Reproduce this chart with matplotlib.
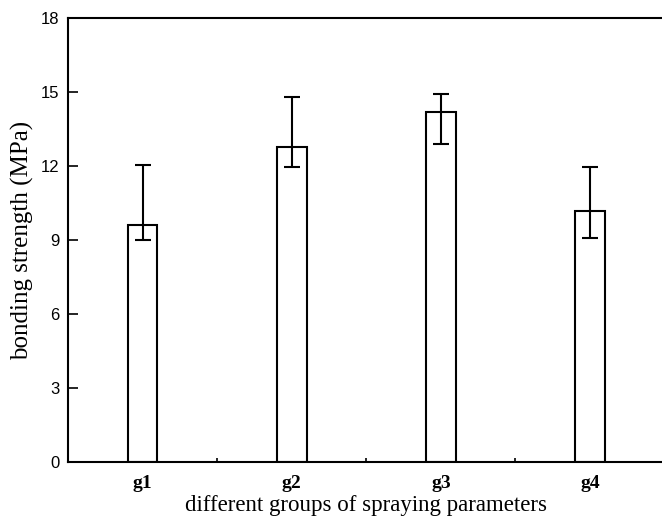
import matplotlib.pyplot as plt
import numpy as np
from matplotlib.ticker import FixedLocator

groups = ['g1', 'g2', 'g3', 'g4']
strength = [9.62, 12.79, 14.21, 10.20]
err_low = [0.62, 0.81, 1.32, 1.12]
err_high = [2.43, 2.03, 0.71, 1.78]
yticks = [0, 3, 6, 9, 12, 15, 18]

fig = plt.figure(figsize=(6.62, 5.24), dpi=100)
ax = fig.add_axes([0.1027, 0.1177, 0.9013, 0.8474])

x = np.arange(1, len(groups) + 1)
ax.bar(x, strength, width=0.2, color='white', edgecolor='black', linewidth=1.5, zorder=2)
ax.errorbar(x, strength, yerr=[err_low, err_high], fmt='none', ecolor='black',
            elinewidth=1.5, capsize=5.5, capthick=1.5, zorder=3)

ax.set_xlim(0.5, 4.5)
ax.set_ylim(0, 18)
ax.set_yticks(yticks)
ax.set_yticklabels([str(t) for t in yticks], family='Liberation Sans', fontsize=12)
ax.set_xticks(x)
ax.set_xticklabels(groups, family='Liberation Serif', fontweight='bold', fontsize=14)
ax.xaxis.set_minor_locator(FixedLocator([1.5, 2.5, 3.5]))
ax.tick_params(axis='y', direction='in', length=7, width=1.2, pad=6)
ax.tick_params(axis='x', which='major', length=0, pad=9)
ax.tick_params(axis='x', which='minor', direction='in', length=3, width=1.2)

for side in ['left', 'bottom', 'top']:
    ax.spines[side].set_linewidth(1.5)
ax.spines['right'].set_visible(False)

ax.set_ylabel('bonding strength (MPa)', family='Liberation Serif', fontsize=18, labelpad=5)
ax.set_xlabel('different groups of spraying parameters', family='Liberation Serif', fontsize=16.5, labelpad=2)

fig.savefig('out.png', dpi=100)
